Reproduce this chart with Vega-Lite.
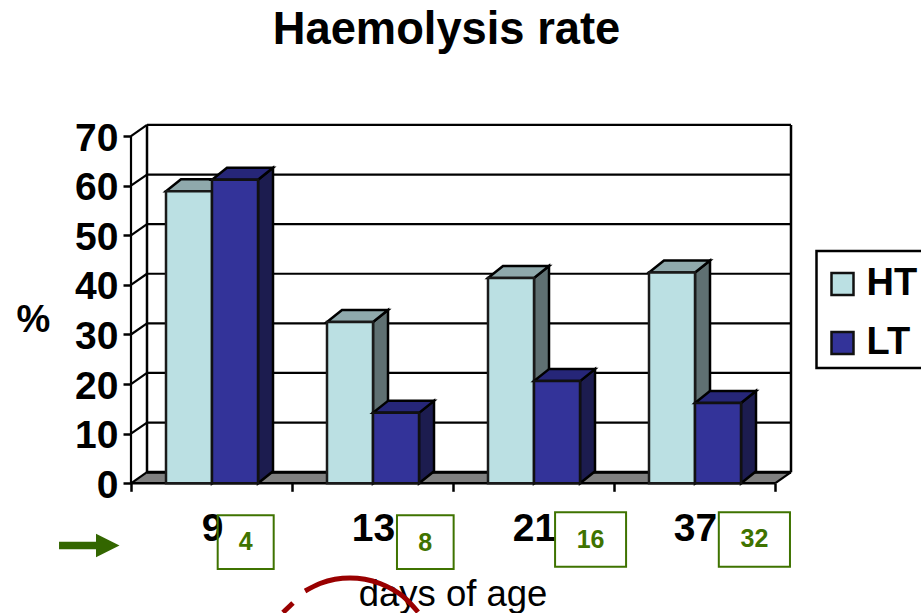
{
"$schema":"https://vega.github.io/schema/vega-lite/v6.json",
"width":921,"height":613,"padding":0,"autosize":{"type":"none"},
"background":"white",
"data":{"values":[{"anchor":1}]},
"title":{"text":"Haemolysis rate","font":"Liberation Sans","fontSize":45.3,"fontWeight":"bold","color":"black","anchor":"middle","offset":-53,"dx":-14},
"config":{"view":{"stroke":null},"font":"Liberation Sans","legend":{"strokeWidth":2.5}},
"datasets":{
"bars":[
{"age":"9","i":0,"series":"HT","value":58.9},{"age":"9","i":0,"series":"LT","value":61.2},
{"age":"13","i":1,"series":"HT","value":32.5},{"age":"13","i":1,"series":"LT","value":14.2},
{"age":"21","i":2,"series":"HT","value":41.4},{"age":"21","i":2,"series":"LT","value":20.6},
{"age":"37","i":3,"series":"HT","value":42.5},{"age":"37","i":3,"series":"LT","value":16.2}],
"corners":[{"d":0},{"d":1}],
"grid":[{"v":0},{"v":10},{"v":20},{"v":30},{"v":40},{"v":50},{"v":60},{"v":70}],
"boxes":[{"code":"4","i":0},{"code":"8","i":1},{"code":"16","i":2},{"code":"32","i":3}],
"arc":[{"seg":"a","x":0.944,"y":-26.05},{"seg":"a","x":1.006,"y":-24.13},
{"seg":"b","x":1.081,"y":-21.71},{"seg":"b","x":1.174,"y":-20.2},{"seg":"b","x":1.267,"y":-19.35},{"seg":"b","x":1.36,"y":-19.09},{"seg":"b","x":1.453,"y":-19.35},{"seg":"b","x":1.547,"y":-20.2},{"seg":"b","x":1.627,"y":-21.45},{"seg":"b","x":1.702,"y":-23.13},{"seg":"b","x":1.783,"y":-25.95}]
},
"layer":[
{"data":{"name":"corners"},
 "transform":[{"calculate":"datum.d*0.0994","as":"xa"},{"calculate":"4+datum.d*0.0994","as":"xb"},{"calculate":"datum.d*2.25","as":"yy"}],
 "mark":{"type":"area","orient":"horizontal","fill":"#808080"},
 "encoding":{
  "x":{"field":"xa","type":"quantitative","stack":null,"scale":{"domain":[-0.81366,4.90683],"nice":false,"zero":false},
   "axis":{"values":[0,1,2,3,4],"offset":-129.7,"domain":false,"grid":false,"tickColor":"black","tickWidth":2.5,"tickSize":8,
    "labelExpr":"datum.value<4?['9','13','21','37'][datum.value]:''","labelOffset":81,"labelFont":"Liberation Sans","labelFontSize":39,"labelFontWeight":"bold","labelColor":"black","labelPadding":18,"labelOverlap":false,"labelBound":false,"labelFlush":false,
    "title":"days of age","titleFont":"Liberation Sans","titleFontSize":36.5,"titleFontWeight":"normal","titleColor":"black","titleX":452.5,"titleY":111,"titleAlign":"center","titleBaseline":"middle","titleAngle":0}},
  "x2":{"field":"xb"},
  "y":{"field":"yy","type":"quantitative","scale":{"domain":[-26.15,97.44],"nice":false,"zero":false},
   "axis":{"values":[0,10,20,30,40,50,60,70],"offset":-131,"domain":false,"grid":false,"tickColor":"black","tickWidth":2.5,"tickSize":8,"labelFont":"Liberation Sans","labelFontSize":39,"labelFontWeight":"bold","labelColor":"black","labelPadding":5,"labelOffset":2,"labelOverlap":false,"labelBound":false,"labelFlush":false,
    "title":"%","titleFont":"Liberation Sans","titleFontSize":38,"titleFontWeight":"bold","titleColor":"black","titleX":-98,"titleY":320,"titleAlign":"center","titleBaseline":"middle","titleAngle":0}}
 }},
{"data":{"name":"grid"},"transform":[{"calculate":"datum.v+2.25","as":"vb"}],
 "layer":[
 {"mark":{"type":"rule","color":"black","strokeWidth":2.2},
  "encoding":{"x":{"datum":0},"x2":{"datum":0.0994},"y":{"field":"v","type":"quantitative"},"y2":{"field":"vb"}}},
 {"mark":{"type":"rule","color":"black","strokeWidth":2.2},
  "encoding":{"x":{"datum":0.0994},"x2":{"datum":4.0994},"y":{"field":"vb","type":"quantitative"}}}
 ]},
{"mark":{"type":"rule","color":"black","strokeWidth":2.2},"encoding":{"x":{"datum":0},"y":{"datum":0},"y2":{"datum":70}}},
{"mark":{"type":"rule","color":"black","strokeWidth":2.5},"encoding":{"x":{"datum":0.0994},"y":{"datum":2.25},"y2":{"datum":72.25}}},
{"mark":{"type":"rule","color":"black","strokeWidth":2.5},"encoding":{"x":{"datum":4.0994},"y":{"datum":2.25},"y2":{"datum":72.25}}},
{"mark":{"type":"rule","color":"black","strokeWidth":3},"encoding":{"x":{"datum":0.0994},"x2":{"datum":4.0994},"y":{"datum":2.25}}},
{"mark":{"type":"rule","color":"black","strokeWidth":2.5},"encoding":{"x":{"datum":0},"x2":{"datum":4},"y":{"datum":0}}},
{"mark":{"type":"rule","color":"black","strokeWidth":2.2},"encoding":{"x":{"datum":4},"x2":{"datum":4.0994},"y":{"datum":0},"y2":{"datum":2.25}}},
{"data":{"name":"bars"},
 "transform":[
  {"calculate":"datum.i+0.2174+(datum.series=='HT'?0:0.2857)","as":"x0"},
  {"calculate":"datum.x0+0.2857","as":"x1"},
  {"calculate":"[0,1]","as":"d"},{"flatten":["d"]},
  {"calculate":"datum.x1+datum.d*0.0932","as":"sx"},
  {"calculate":"datum.x0+datum.d*0.0932","as":"tx"},
  {"calculate":"datum.value+datum.d*2.42","as":"sy"},
  {"calculate":"datum.d*2.42","as":"sb"}],
 "layer":[
 {"transform":[{"filter":"datum.series=='HT'"}],"mark":{"type":"area","fill":"#5F7072","stroke":"black","strokeWidth":2.5,"strokeJoin":"miter"},
  "encoding":{"x":{"field":"sx","type":"quantitative"},"y":{"field":"sy","type":"quantitative","stack":null},"y2":{"field":"sb"},"detail":{"field":"age"}}},
 {"transform":[{"filter":"datum.series=='HT'"}],"mark":{"type":"area","orient":"horizontal","fill":"#8FA9AC","stroke":"black","strokeWidth":2.5,"strokeJoin":"miter"},
  "encoding":{"y":{"field":"sy","type":"quantitative"},"x":{"field":"tx","type":"quantitative","stack":null},"x2":{"field":"sx"},"detail":{"field":"age"}}},
 {"transform":[{"filter":"datum.series=='HT' && datum.d==0"}],"mark":{"type":"rect","stroke":"#1a1a1a","strokeWidth":2.5},
  "encoding":{"x":{"field":"x0","type":"quantitative"},"x2":{"field":"x1"},"y":{"field":"value","type":"quantitative"},"y2":{"datum":0},
   "color":{"field":"series","type":"nominal","scale":{"domain":["HT","LT"],"range":["#BBE0E3","#333399"]},
    "legend":{"orient":"none","legendX":816.5,"legendY":251,"title":" ","titleFontSize":4,"titlePadding":4,"padding":6,"strokeColor":"black","symbolType":"square","symbolSize":484,"symbolStrokeColor":"black","symbolStrokeWidth":2.5,"symbolOpacity":1,"labelFont":"Liberation Sans","labelFontSize":38,"labelFontWeight":"bold","labelColor":"black","labelOffset":5,"rowPadding":21,"fillColor":"white","symbolOffset":1}}}},
 {"transform":[{"filter":"datum.series=='LT'"}],"mark":{"type":"area","fill":"#1C1C4F","stroke":"black","strokeWidth":2.5,"strokeJoin":"miter"},
  "encoding":{"x":{"field":"sx","type":"quantitative"},"y":{"field":"sy","type":"quantitative","stack":null},"y2":{"field":"sb"},"detail":{"field":"age"}}},
 {"transform":[{"filter":"datum.series=='LT'"}],"mark":{"type":"area","orient":"horizontal","fill":"#262678","stroke":"black","strokeWidth":2.5,"strokeJoin":"miter"},
  "encoding":{"y":{"field":"sy","type":"quantitative"},"x":{"field":"tx","type":"quantitative","stack":null},"x2":{"field":"sx"},"detail":{"field":"age"}}},
 {"transform":[{"filter":"datum.series=='LT' && datum.d==0"}],"mark":{"type":"rect","stroke":"#111111","strokeWidth":2.5},
  "encoding":{"x":{"field":"x0","type":"quantitative"},"x2":{"field":"x1"},"y":{"field":"value","type":"quantitative"},"y2":{"datum":0},
   "color":{"field":"series","type":"nominal"}}}
 ]},
{"data":{"name":"boxes"},
 "transform":[
  {"calculate":"[0.5385,1.652,2.634,3.651][datum.i]","as":"bl"},
  {"calculate":"[0.8863,2.004,3.075,4.093][datum.i]","as":"br"},
  {"calculate":"[-6.45,-6.45,-5.85,-5.85][datum.i]","as":"bt"},
  {"calculate":"[-17.28,-17.28,-16.81,-16.81][datum.i]","as":"bb"},
  {"calculate":"(datum.bl+datum.br)/2","as":"bc"},
  {"calculate":"[-11.9,-12.1,-11.4,-11.3][datum.i]","as":"bm"}],
 "layer":[
 {"mark":{"type":"rect","fillOpacity":0,"stroke":"#3F7300","strokeWidth":2},
  "encoding":{"x":{"field":"bl","type":"quantitative"},"x2":{"field":"br"},"y":{"field":"bt","type":"quantitative"},"y2":{"field":"bb"}}},
 {"mark":{"type":"text","font":"Liberation Sans","fontSize":25,"fontWeight":"bold","color":"#3F7300","align":"center","baseline":"middle"},
  "encoding":{"x":{"field":"bc","type":"quantitative"},"y":{"field":"bm","type":"quantitative"},"text":{"field":"code"}}}
 ]},
{"mark":{"type":"rule","color":"#336600","strokeWidth":7.7},"encoding":{"x":{"datum":-0.447},"x2":{"datum":-0.2174},"y":{"datum":-12.54}}},
{"data":{"name":"corners"},
 "transform":[{"calculate":"-0.2174+datum.d*0.146","as":"ax"},{"calculate":"-12.54+(1-datum.d)*2.36","as":"at"},{"calculate":"-12.54-(1-datum.d)*2.36","as":"ab"}],
 "mark":{"type":"area","fill":"#336600"},
 "encoding":{"x":{"field":"ax","type":"quantitative"},"y":{"field":"at","type":"quantitative","stack":null},"y2":{"field":"ab"}}},
{"data":{"name":"arc"},
 "mark":{"type":"line","color":"#990000","strokeWidth":5,"interpolate":"monotone"},
 "encoding":{"x":{"field":"x","type":"quantitative"},"y":{"field":"y","type":"quantitative"},"detail":{"field":"seg"}}}
]
}
